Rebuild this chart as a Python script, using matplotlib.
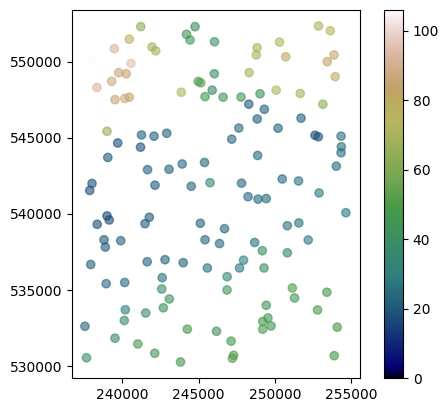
import numpy as np
import matplotlib
matplotlib.use("Agg")
import matplotlib.pyplot as plt
from matplotlib.cm import ScalarMappable

# point locations (easting, northing) and measured value
x = [241210, 240453, 239475, 241948, 242191, 237999, 240571, 239764, 240256, 239305,
     238334, 239521, 240157, 240459, 238996, 243870, 244769, 244212, 244441, 246048,
     244979, 245143, 246035, 245897, 245425, 246612, 247787, 249033, 248298, 249315,
     248849, 247642, 250214, 251723, 252641, 252858, 254347, 248836, 248790, 250312,
     250719, 248318, 250096, 251670, 253153, 252871, 253645, 253888, 253442, 253966,
     241260, 242080, 242913, 239698, 241194, 239049, 241653, 243064, 243929, 245392,
     245753, 238012, 237861, 242145, 244520, 247177, 254366, 254347, 248876, 254038,
     247820, 250489, 251559, 252904, 248246, 248902, 249440, 254662, 238996, 239141,
     238353, 241771, 241489, 245117, 246704, 250824, 251578, 238800, 238885, 239895,
     245425, 246376, 248679, 249184, 250824, 252195, 237927, 241633, 242801, 243995,
     245576, 238944, 240157, 242617, 242585, 243083, 240197, 241535, 242690, 240131,
     237547, 244264, 246180, 239521, 241017, 237651, 242125, 243818, 247951, 247688,
     249295, 246875, 246868, 251152, 251296, 253415, 249440, 252805, 249551, 249210,
     249755, 249210, 254097, 247135, 247305, 247220, 253899]
y = [552290, 551467, 550844, 550955, 550706, 550102, 549886, 549269, 549204, 548705,
     548298, 547498, 547577, 547655, 545425, 547984, 552287, 551788, 551414, 551296,
     548692, 548607, 549197, 548121, 547695, 547662, 547669, 547885, 547203, 546868,
     546232, 545635, 545628, 546284, 545163, 545064, 545104, 550909, 550430, 551270,
     550312, 549269, 548121, 547905, 547203, 552333, 552018, 550430, 549991, 549007,
     545182, 545104, 545294, 544658, 544382, 543706, 542906, 542932, 543280, 543378,
     542053, 542001, 541542, 541889, 541817, 544907, 544408, 544015, 543838, 543136,
     542020, 542296, 542165, 541378, 541135, 540971, 541010, 540085, 539869, 539606,
     539324, 539784, 539364, 539390, 539036, 539232, 539410, 538307, 537829, 538248,
     538307, 538058, 538130, 537592, 537455, 538294, 536687, 536864, 537002, 536805,
     536458, 535428, 535506, 535821, 535080, 534424, 533716, 533506, 533847, 533014,
     532633, 532443, 532305, 531852, 531472, 530567, 530862, 530291, 536969, 536458,
     536458, 535887, 535014, 535146, 534490, 534864, 534011, 533702, 533178, 532948,
     532653, 532443, 532574, 531656, 530731, 530534, 530704]
value = [64, 75, 92, 70, 70, 106, 96, 86, 85, 88,
         92, 86, 88, 85, 66, 72, 40, 45, 45, 40,
         50, 52, 40, 36, 48, 45, 45, 42, 20, 22,
         22, 25, 22, 22, 16, 18, 25, 70, 70, 72,
         82, 70, 72, 70, 63, 72, 75, 85, 82, 78,
         22, 22, 22, 18, 18, 20, 22, 22, 24, 24,
         35, 18, 18, 20, 24, 24, 25, 25, 24, 24,
         24, 24, 26, 28, 24, 24, 24, 28, 15, 18,
         18, 20, 20, 22, 24, 26, 26, 20, 20, 22,
         24, 24, 26, 38, 35, 28, 22, 22, 22, 22,
         26, 24, 24, 26, 38, 42, 30, 38, 40, 38,
         24, 48, 42, 35, 48, 40, 45, 45, 30, 28,
         40, 35, 45, 50, 45, 48, 45, 50, 45, 48,
         45, 50, 48, 48, 50, 52, 48]

fig = plt.figure(figsize=(4.48, 4.13), dpi=100)
ax = fig.add_axes([72 / 448, 35 / 413, 288 / 448, 368 / 413])
cax = fig.add_axes([384 / 448, 35 / 413, 19 / 448, 368 / 413])

sc = ax.scatter(x, y, c=value, cmap="gist_earth", vmin=0, alpha=0.6)
ax.set_xlim(236700, 255590)
ax.set_ylim(529240, 553380)
ax.set_xticks([240000, 245000, 250000, 255000])

# colorbar drawn opaque, like the reference
fig.colorbar(ScalarMappable(norm=sc.norm, cmap=sc.cmap), cax=cax)

fig.savefig("out.png", dpi=100)
